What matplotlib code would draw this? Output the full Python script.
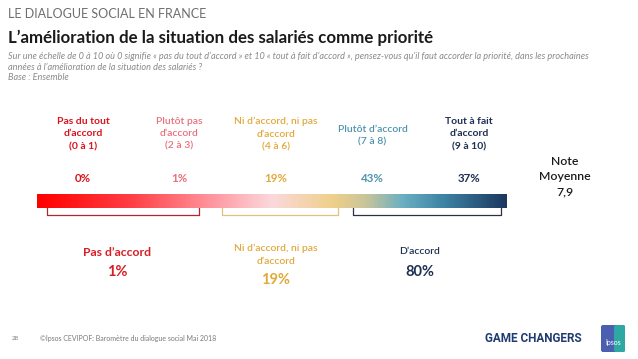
import numpy as np
import matplotlib.pyplot as plt
from matplotlib.colors import LinearSegmentedColormap
from matplotlib.patches import FancyBboxPatch

# Data
categories = ["Pas du tout\nd\u2019accord\n(0 à 1)", "Plutôt pas\nd\u2019accord\n(2 à 3)",
              "Ni d\u2019accord, ni pas\nd\u2019accord\n(4 à 6)", "Plutôt d\u2019accord\n(7 à 8)",
              "Tout à fait\nd\u2019accord\n(9 à 10)"]
percents = [0, 1, 19, 43, 37]
cat_colors = ["#D9141E", "#E8707A", "#E2A93A", "#4F93AE", "#1F2F52"]
groups = ["Pas d\u2019accord", "Ni d\u2019accord, ni pas\nd\u2019accord", "D\u2019accord"]
group_values = [1, 19, 80]
group_colors = ["#D61F26", "#E2A93A", "#1F3052"]
mean_score = 7.9

plt.rcParams['font.family'] = ['Lato', 'DejaVu Sans']

W, H = 638, 359
fig = plt.figure(figsize=(W / 100, H / 100), dpi=100)
ax = fig.add_axes([0, 0, 1, 1])
ax.set_xlim(0, W)
ax.set_ylim(H, 0)
ax.axis('off')

# header
ax.text(8, 14, "LE DIALOGUE SOCIAL EN FRANCE", fontsize=9, color="#6E6E6E", va='center')
ax.text(8, 38, "L\u2019amélioration de la situation des salariés comme priorité", fontsize=12.2,
        fontweight='bold', color="#1A1A1A", va='center')
ax.text(8, 67, "Sur une échelle de 0 à 10 où 0 signifie « pas du tout d\u2019accord » et 10 « tout à fait d\u2019accord », "
        "pensez-vous qu\u2019il faut accorder la priorité, dans les prochaines\n"
        "années à l\u2019amélioration de la situation des salariés ?\nBase : Ensemble",
        fontsize=6.6, style='italic', color="#8A8A8A", va='center', linespacing=1.22)

# gradient bar
cmap = LinearSegmentedColormap.from_list("scale", [
    (0.0, "#FF0000"), (0.2, "#FF3F45"), (0.38, "#FF9AA2"), (0.5, "#FBD9DC"),
    (0.63, "#EFD08A"), (0.7, "#C9C59A"), (0.78, "#6AAFC2"), (0.87, "#3C82A2"),
    (1.0, "#1D3860")])
grad = np.linspace(0, 1, 400).reshape(1, -1)
ax.imshow(grad, cmap=cmap, aspect='auto', extent=[37, 507, 208, 194], zorder=2)

# brackets under the bar
brackets = [(47, 199, "#B0282E"), (222, 338, "#E2C27A"), (353, 501, "#2A3048")]
for x0, x1, c in brackets:
    ax.plot([x0, x0, x1, x1], [208, 215, 215, 208], color=c, lw=0.9, zorder=1)

# categories
xs = np.linspace(83, 469, len(categories))
for x, lab, p, c in zip(xs, categories, percents, cat_colors):
    nlines = lab.count("\n") + 1
    y_top = 117 if nlines == 3 else 125
    ax.text(x, y_top, lab, ha='center', va='top', fontsize=7.5, color=c,
            fontweight='bold' if c in ("#D9141E", "#1F2F52") else 'semibold',
            linespacing=1.5)
    ax.text(x, 178, f"{p}%", ha='center', va='center', fontsize=8.3, color=c, fontweight='bold')

ax.text(565, 177, f"Note\nMoyenne\n{mean_score:.1f}".replace(".", ","), ha='center', va='center',
        fontsize=8.8, color="#1A1A1A", linespacing=1.45, fontweight='semibold')

# group totals
gx = [117, 276, 420]
for x, g, v, c in zip(gx, groups, group_values, group_colors):
    two = "\n" in g
    big = not two and g.startswith("Pas")
    ax.text(x, 244 if two else 252, g, ha='center', va='center' if not two else 'top',
            fontsize=8.8 if big else 7.5, color=c, fontweight='bold' if big else 'semibold',
            linespacing=1.5)
    ax.text(x, 280 if two else 272, f"{v}%", ha='center', va='center', fontsize=10.5,
            color=c, fontweight='bold')

# footer
ax.text(12, 339, "28", fontsize=4.5, color="#7A7A7A", va='center')
ax.text(40, 339, "©Ipsos CEVIPOF: Baromètre du dialogue social Mai 2018", fontsize=5,
        color="#7A7A7A", va='center')
ax.text(582, 339, "GAME CHANGERS", fontsize=8.5, fontweight='bold', color="#1E3A70",
        ha='right', va='center', family=['Roboto', 'DejaVu Sans'])
ax.add_patch(FancyBboxPatch((601, 325), 24, 27, boxstyle="round,pad=0,rounding_size=2",
                            fc="#4A5FB0", ec='none'))
ax.add_patch(FancyBboxPatch((614, 325), 11, 27, boxstyle="round,pad=0,rounding_size=2",
                            fc="#2FA8A4", ec='none'))
ax.text(613, 342, "Ipsos", fontsize=5, color="white", ha='center', va='center')

fig.savefig("out.png", dpi=100)
